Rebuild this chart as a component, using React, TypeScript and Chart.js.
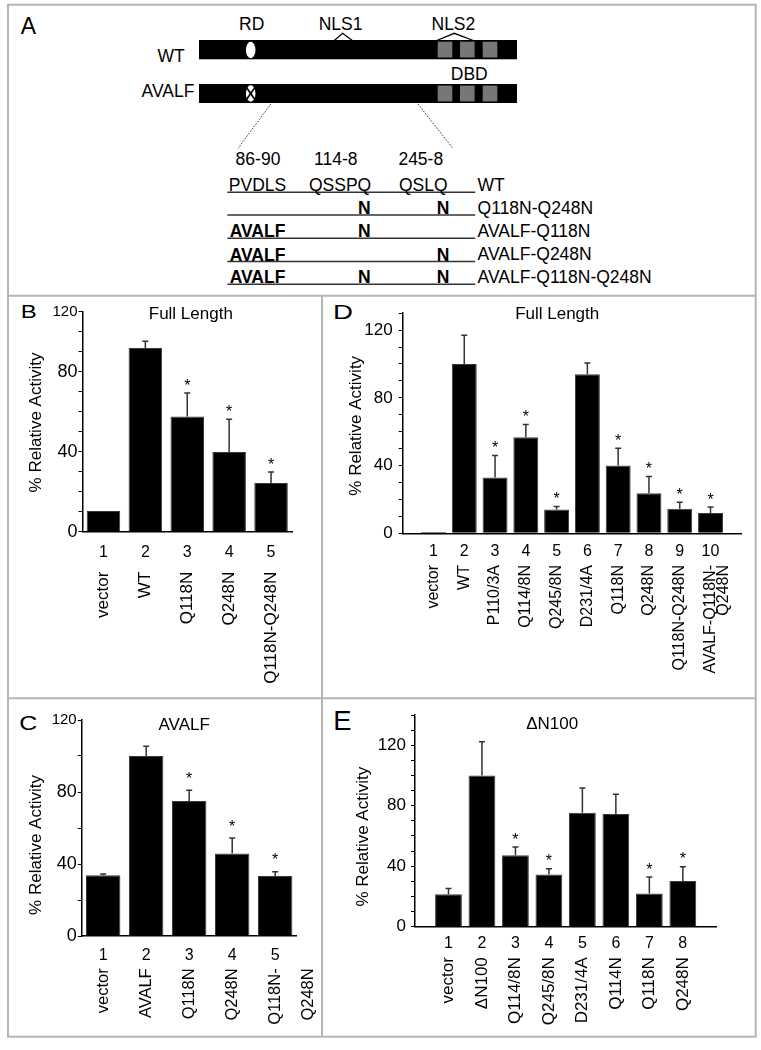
import React, { useEffect, useRef } from 'react';
import { Chart, registerables } from 'chart.js';

Chart.register(...registerables);

const FONT = '"Liberation Sans", Arial, Helvetica, sans-serif';
Chart.defaults.font.family = FONT;

// ---------------- Panel B : Full Length ----------------
const bNumbers = ['1', '2', '3', '4', '5'];
const bNames = [['vector'], ['WT'], ['Q118N'], ['Q248N'], ['Q118N-Q248N']];
const bValues = [10.4, 91.8, 57.6, 39.8, 24.3];
const bErrors = [0, 3.4, 11.7, 16.4, 5.6];
const bStars = [false, false, true, true, true];
const bTickValues = [0, 10, 20, 30, 40, 50, 60, 70, 80, 90, 100, 110];
const bTickLabels = ['0', '', '', '', '40', '', '', '', '80', '', '', '120'];

// ---------------- Panel C : AVALF ----------------
const cNumbers = ['1', '2', '3', '4', '5'];
const cNames = [['vector'], ['AVALF'], ['Q118N'], ['Q248N'], ['Q118N-', 'Q248N']];
const cValues = [33.8, 100, 75, 45.8, 33.3];
const cErrors = [0.6, 5.4, 6, 8.7, 2.4];
const cStars = [false, false, true, true, true];
const cTickValues = [0, 20, 40, 60, 80, 100, 120];
const cTickLabels = ['0', '', '40', '', '80', '', '120'];

// ---------------- Panel D : Full Length ----------------
const dNumbers = ['1', '2', '3', '4', '5', '6', '7', '8', '9', '10'];
const dNames = [
  ['vector'], ['WT'], ['P110/3A'], ['Q114/8N'], ['Q245/8N'], ['D231/4A'],
  ['Q118N'], ['Q248N'], ['Q118N-Q248N'], ['AVALF-Q118N-', 'Q248N'],
];
const dValues = [0.8, 100, 32.9, 56.7, 14.1, 93.9, 40.1, 23.6, 14.5, 12];
const dErrors = [0, 17, 13.1, 7.6, 1.7, 6.7, 10.2, 9.9, 3.9, 3.5];
const dStars = [false, false, true, true, true, false, true, true, true, true];
const dTickValues = [0, 10, 20, 30, 40, 50, 60, 70, 80, 90, 100, 110, 120, 130];
const dTickLabels = ['0', '', '', '', '40', '', '', '', '80', '', '', '', '120', ''];

// ---------------- Panel E : ΔN100 ----------------
const eNumbers = ['1', '2', '3', '4', '5', '6', '7', '8'];
const eNames = [['vector'], ['ΔN100'], ['Q114/8N'], ['Q245/8N'], ['D231/4A'], ['Q114N'], ['Q118N'], ['Q248N']];
const eValues = [21.4, 100, 47.2, 34.5, 75.4, 74.5, 21.9, 30.2];
const eErrors = [3.7, 22.4, 5.5, 3.8, 16.4, 13.1, 10.9, 9.4];
const eStars = [false, false, true, true, false, false, true, true];
const eTickValues = [0, 10, 20, 30, 40, 50, 60, 70, 80, 90, 100, 110, 120, 130, 140];
const eTickLabels = ['0', '', '', '', '40', '', '', '', '80', '', '', '', '120', '', ''];

// ---------------- Panel A : schematic ----------------
const rowLineY = [192.3, 215, 238.3, 261.5, 284.3];
const rowLabels = ['WT', 'Q118N-Q248N', 'AVALF-Q118N', 'AVALF-Q248N', 'AVALF-Q118N-Q248N'];
const rowMarks = [
  [{ t: 'PVDLS', x: 257.5, b: false }, { t: 'QSSPQ', x: 340.1, b: false }, { t: 'QSLQ', x: 423.2, b: false }],
  [{ t: 'N', x: 364.4, b: true }, { t: 'N', x: 443.1, b: true }],
  [{ t: 'AVALF', x: 257.5, b: true }, { t: 'N', x: 364.4, b: true }],
  [{ t: 'AVALF', x: 257.5, b: true }, { t: 'N', x: 443.1, b: true }],
  [{ t: 'AVALF', x: 257.5, b: true }, { t: 'N', x: 364.4, b: true }, { t: 'N', x: 443.1, b: true }],
];
const siteLabels = [{ t: '86-90', x: 258 }, { t: '114-8', x: 335.8 }, { t: '245-8', x: 420.8 }];
const dbdBoxesX = [437.7, 460, 482.7];

type PanelCfg = {
  box: { left: number; top: number; width: number; height: number };
  padding: { left: number; top: number; right: number; bottom: number };
  yMax: number;
  tickValues: number[];
  tickLabels: string[];
  tickFont: number;
  topTickFont: number;
  tickPadding: number;
  numbers: string[];
  names: string[][];
  values: number[];
  errors: number[];
  stars: boolean[];
  edgeSlots: boolean;
  barPct: number;
  numOffset: number;
  nameOffset: number;
  nameFont: number;
  lineGap: number;
  starGap: number;
  title: string;
  titleX: number;
  titleY: number;
  yTitleX: number;
  yTitleY: number;
};

const Y_AXIS_W = 50;

function makeDecor(cfg: PanelCfg) {
  return {
    id: 'decor',
    afterDatasetsDraw(chart: any) {
      const { ctx } = chart;
      const x = chart.scales.x;
      const y = chart.scales.y;
      const off = cfg.edgeSlots ? 1 : 0;
      ctx.save();
      cfg.values.forEach((v, i) => {
        const cx = x.getPixelForValue(i + off);
        const e = cfg.errors[i];
        const top = y.getPixelForValue(v + e);
        if (e > 0) {
          const base = y.getPixelForValue(v);
          ctx.strokeStyle = '#333';
          ctx.lineWidth = 1.5;
          ctx.beginPath();
          ctx.moveTo(cx, base);
          ctx.lineTo(cx, top);
          ctx.moveTo(cx - 3, top);
          ctx.lineTo(cx + 3, top);
          ctx.stroke();
        }
        if (cfg.stars[i]) {
          ctx.fillStyle = '#000';
          ctx.font = `16px ${FONT}`;
          ctx.textAlign = 'center';
          ctx.textBaseline = 'alphabetic';
          ctx.fillText('*', cx, top - cfg.starGap);
        }
      });
      ctx.restore();
    },
    afterDraw(chart: any) {
      const { ctx, chartArea } = chart;
      const x = chart.scales.x;
      const off = cfg.edgeSlots ? 1 : 0;
      const axisY = chartArea.bottom;
      ctx.save();
      ctx.fillStyle = '#000';
      cfg.numbers.forEach((n, i) => {
        const cx = x.getPixelForValue(i + off);
        ctx.font = `16px ${FONT}`;
        ctx.textAlign = 'center';
        ctx.textBaseline = 'alphabetic';
        ctx.fillText(n, cx, axisY + cfg.numOffset);
        cfg.names[i].forEach((line, j) => {
          ctx.save();
          ctx.translate(cx + j * cfg.lineGap, axisY + cfg.nameOffset);
          ctx.rotate(-Math.PI / 2);
          ctx.font = `${cfg.nameFont}px ${FONT}`;
          ctx.textAlign = 'right';
          ctx.textBaseline = 'middle';
          ctx.fillText(line, 0, 0);
          ctx.restore();
        });
      });
      // chart title
      ctx.font = `17px ${FONT}`;
      ctx.textAlign = 'center';
      ctx.textBaseline = 'alphabetic';
      ctx.fillText(cfg.title, cfg.titleX - cfg.box.left, cfg.titleY - cfg.box.top);
      // y axis title
      ctx.save();
      ctx.translate(cfg.yTitleX - cfg.box.left, cfg.yTitleY - cfg.box.top);
      ctx.rotate(-Math.PI / 2);
      ctx.textAlign = 'center';
      ctx.textBaseline = 'middle';
      ctx.fillText('% Relative Activity', 0, 0);
      ctx.restore();
      ctx.restore();
    },
  };
}

function BarPanel({ cfg }: { cfg: PanelCfg }) {
  const ref = useRef<HTMLCanvasElement>(null);
  useEffect(() => {
    if (!ref.current) return;
    const labels = cfg.edgeSlots ? ['', ...cfg.numbers, ''] : [...cfg.numbers];
    const data = cfg.edgeSlots ? [null, ...cfg.values, null] : [...cfg.values];
    const chart = new Chart(ref.current, {
      type: 'bar',
      data: {
        labels,
        datasets: [
          {
            data: data as any,
            backgroundColor: '#000',
            borderColor: '#3a3a3a',
            borderWidth: 1,
            barPercentage: cfg.barPct,
            categoryPercentage: 1,
          },
        ],
      },
      options: {
        responsive: false,
        maintainAspectRatio: false,
        animation: false,
        layout: { padding: cfg.padding, autoPadding: false } as any,
        plugins: { legend: { display: false }, tooltip: { enabled: false }, title: { display: false } },
        scales: {
          x: {
            type: 'category',
            offset: !cfg.edgeSlots,
            ticks: { display: false },
            grid: { display: false, drawTicks: false },
            border: { display: true, color: '#000', width: 1.5 },
            afterFit: (s: any) => {
              s.height = 0;
            },
          },
          y: {
            type: 'linear',
            min: 0,
            max: cfg.yMax,
            afterBuildTicks: (s: any) => {
              s.ticks = cfg.tickValues.map((v) => ({ value: v }));
            },
            afterFit: (s: any) => {
              s.width = Y_AXIS_W;
            },
            ticks: {
              autoSkip: false,
              color: '#000',
              padding: cfg.tickPadding,
              callback: (v: any) => {
                const k = cfg.tickValues.indexOf(Number(v));
                return k >= 0 ? cfg.tickLabels[k] : '';
              },
              font: (c: any) => ({
                family: FONT,
                size: c.tick && c.tick.value === cfg.yMax ? cfg.topTickFont : cfg.tickFont,
              }),
            },
            grid: {
              display: true,
              drawOnChartArea: false,
              drawTicks: true,
              tickLength: 4,
              tickColor: '#000',
              tickWidth: 1,
            },
            border: { display: true, color: '#000', width: 1.5 },
          },
        },
      },
      plugins: [makeDecor(cfg)],
    } as any);
    return () => chart.destroy();
  }, []);
  return (
    <canvas
      ref={ref}
      width={cfg.box.width}
      height={cfg.box.height}
      style={{
        position: 'absolute',
        left: cfg.box.left,
        top: cfg.box.top,
        width: cfg.box.width,
        height: cfg.box.height,
      }}
    />
  );
}

const panelB: PanelCfg = {
  box: { left: 0, top: 297, width: 320, height: 400 },
  padding: { left: 82.5 - Y_AXIS_W, top: 14.7, right: 28, bottom: 165.3 },
  yMax: 110,
  tickValues: bTickValues,
  tickLabels: bTickLabels,
  tickFont: 18,
  topTickFont: 15,
  tickPadding: 1,
  numbers: bNumbers,
  names: bNames,
  values: bValues,
  errors: bErrors,
  stars: bStars,
  edgeSlots: false,
  barPct: 0.8,
  numOffset: 25,
  nameOffset: 40,
  nameFont: 17,
  lineGap: 20,
  starGap: 2.4,
  title: 'Full Length',
  titleX: 190.8,
  titleY: 319,
  yTitleX: 36.7,
  yTitleY: 422.5,
};

const panelC: PanelCfg = {
  box: { left: 0, top: 700, width: 320, height: 335 },
  padding: { left: 81.7 - Y_AXIS_W, top: 20, right: 23.3, bottom: 99 },
  yMax: 120,
  tickValues: cTickValues,
  tickLabels: cTickLabels,
  tickFont: 18,
  topTickFont: 15,
  tickPadding: 1,
  numbers: cNumbers,
  names: cNames,
  values: cValues,
  errors: cErrors,
  stars: cStars,
  edgeSlots: false,
  barPct: 0.8,
  numOffset: 24,
  nameOffset: 32.3,
  nameFont: 16.5,
  lineGap: 33,
  starGap: 6.4,
  title: 'AVALF',
  titleX: 184.2,
  titleY: 730,
  yTitleX: 36.3,
  yTitleY: 845,
};

const panelD: PanelCfg = {
  box: { left: 330, top: 297, width: 425, height: 400 },
  padding: { left: 402.7 - 330 - Y_AXIS_W, top: 12.3, right: 13.7, bottom: 163.7 },
  yMax: 130,
  tickValues: dTickValues,
  tickLabels: dTickLabels,
  tickFont: 17,
  topTickFont: 17,
  tickPadding: 6,
  numbers: dNumbers,
  names: dNames,
  values: dValues,
  errors: dErrors,
  stars: dStars,
  edgeSlots: true,
  barPct: 0.81,
  numOffset: 22.4,
  nameOffset: 31.7,
  nameFont: 16,
  lineGap: 13,
  starGap: 2.4,
  title: 'Full Length',
  titleX: 557.2,
  titleY: 319,
  yTitleX: 356.7,
  yTitleY: 425.8,
};

const panelE: PanelCfg = {
  box: { left: 330, top: 700, width: 425, height: 335 },
  padding: { left: 415 - 330 - Y_AXIS_W, top: 12.7, right: 38.7, bottom: 108.5 },
  yMax: 140,
  tickValues: eTickValues,
  tickLabels: eTickLabels,
  tickFont: 17,
  topTickFont: 17,
  tickPadding: 5,
  numbers: eNumbers,
  names: eNames,
  values: eValues,
  errors: eErrors,
  stars: eStars,
  edgeSlots: true,
  barPct: 0.8,
  numOffset: 21.3,
  nameOffset: 30.7,
  nameFont: 17,
  lineGap: 20,
  starGap: 2.4,
  title: 'ΔN100',
  titleX: 552.2,
  titleY: 728.5,
  yTitleX: 363.3,
  yTitleY: 836.7,
};

function Schematic() {
  const txt = { fontFamily: FONT, fontSize: 17.5, fill: '#000' } as any;
  return (
    <svg
      width={761}
      height={1050}
      style={{ position: 'absolute', left: 0, top: 0 }}
      xmlns="http://www.w3.org/2000/svg"
    >
      {/* frame */}
      <rect x={8} y={4.7} width={747.7} height={1032} fill="none" stroke="#b5b5b5" strokeWidth={2} />
      <line x1={8} y1={295.7} x2={755.7} y2={295.7} stroke="#b5b5b5" strokeWidth={2} />
      <line x1={8} y1={698.3} x2={755.7} y2={698.3} stroke="#b5b5b5" strokeWidth={2} />
      <line x1={322} y1={295.7} x2={322} y2={1036.7} stroke="#b5b5b5" strokeWidth={2} />

      {/* panel letters */}
      <text x={20.7} y={33.5} fontFamily={FONT} fontSize={23} textLength={15.3} lengthAdjust="spacingAndGlyphs">A</text>
      <text x={20.7} y={318.3} fontFamily={FONT} fontSize={18.6} textLength={16} lengthAdjust="spacingAndGlyphs">B</text>
      <text x={19.3} y={730.3} fontFamily={FONT} fontSize={21} textLength={18} lengthAdjust="spacingAndGlyphs">C</text>
      <text x={333} y={319} fontFamily={FONT} fontSize={19.5} textLength={20} lengthAdjust="spacingAndGlyphs">D</text>
      <text x={333.3} y={730} fontFamily={FONT} fontSize={27} textLength={18.3} lengthAdjust="spacingAndGlyphs">E</text>

      {/* domain labels */}
      <text {...txt} x={251.7} y={30} textAnchor="middle">RD</text>
      <text {...txt} x={340.6} y={30} textAnchor="middle">NLS1</text>
      <text {...txt} x={453.4} y={30} textAnchor="middle">NLS2</text>
      <polyline points="334.3,40.5 342.6,33.3 352.3,40.5" fill="none" stroke="#000" strokeWidth={1.3} />
      <polyline points="436.7,40.5 454.3,33.3 473.3,40.5" fill="none" stroke="#000" strokeWidth={1.3} />

      {/* WT bar */}
      <text {...txt} x={184.6} y={61.7} textAnchor="end">WT</text>
      <rect x={199} y={40} width={318} height={19.3} fill="#000" />
      <ellipse cx={250.7} cy={50} rx={4.8} ry={8.3} fill="#fff" />
      {dbdBoxesX.map((bx, i) => (
        <rect key={'w' + i} x={bx} y={41.7} width={14.6} height={15.8} fill="#777" />
      ))}

      <text {...txt} x={469.3} y={80} textAnchor="middle">DBD</text>

      {/* AVALF bar */}
      <text {...txt} x={194.4} y={97} textAnchor="end">AVALF</text>
      <rect x={199} y={84} width={318} height={19} fill="#000" />
      <ellipse cx={250.7} cy={93.5} rx={4.8} ry={8.3} fill="#fff" />
      <line x1={246.5} y1={87.5} x2={254.9} y2={99.5} stroke="#000" strokeWidth={1.6} />
      <line x1={254.9} y1={87.5} x2={246.5} y2={99.5} stroke="#000" strokeWidth={1.6} />
      {dbdBoxesX.map((bx, i) => (
        <rect key={'a' + i} x={bx} y={85.6} width={14.6} height={15.8} fill="#777" />
      ))}

      {/* zoom lines */}
      <line x1={270.7} y1={104} x2={238.1} y2={148.3} stroke="#333" strokeWidth={1} strokeDasharray="1.5 1.5" />
      <line x1={417.9} y1={104} x2={452.9} y2={148.3} stroke="#333" strokeWidth={1} strokeDasharray="1.5 1.5" />

      {siteLabels.map((s, i) => (
        <text key={'s' + i} {...txt} x={s.x} y={165} textAnchor="middle">{s.t}</text>
      ))}

      {/* sequence rows */}
      {rowLineY.map((ly, r) => (
        <g key={'r' + r}>
          <line x1={227.4} y1={ly} x2={475.2} y2={ly} stroke="#333" strokeWidth={1.5} />
          {rowMarks[r].map((m, k) => (
            <text
              key={k}
              {...txt}
              x={m.x}
              y={ly - 1}
              textAnchor="middle"
              fontWeight={m.b ? 'bold' : 'normal'}
            >
              {m.t}
            </text>
          ))}
          <text {...txt} x={477.6} y={ly - 1.2}>{rowLabels[r]}</text>
        </g>
      ))}
    </svg>
  );
}

export default function App() {
  return (
    <div style={{ position: 'absolute', left: 0, top: 0, width: 761, height: 1050, background: '#fff' }}>
      <Schematic />
      <BarPanel cfg={panelB} />
      <BarPanel cfg={panelC} />
      <BarPanel cfg={panelD} />
      <BarPanel cfg={panelE} />
    </div>
  );
}
